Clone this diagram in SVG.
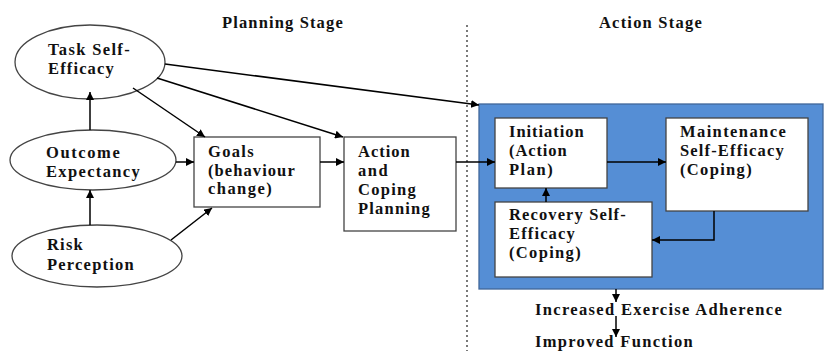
<svg xmlns="http://www.w3.org/2000/svg" width="824" height="351" viewBox="0 0 824 351">
<defs>
<marker id="ah" viewBox="0 0 10 10" refX="10" refY="5" markerWidth="8" markerHeight="8" markerUnits="userSpaceOnUse" orient="auto">
<path d="M0,0 L10,5 L0,10 z" fill="#000"/>
</marker>
</defs>
<style>
text{font-family:"Liberation Serif","Times New Roman",serif;font-weight:bold;font-size:16.5px;fill:#111;letter-spacing:0.3px}
.node{fill:#fff;stroke:#444;stroke-width:1.3}
.c{fill:none;stroke:#000;stroke-width:1.5;marker-end:url(#ah)}
</style>
<rect width="824" height="351" fill="#fff"/>
<text x="222" y="28" textLength="121">Planning Stage</text>
<text x="599" y="28" textLength="103">Action Stage</text>
<line x1="467" y1="25" x2="467" y2="351" stroke="#222" stroke-width="1.2" stroke-dasharray="2,3"/>
<g id="action-stage">
<rect x="479" y="104" width="344" height="185" fill="#558ed5" stroke="#41679a" stroke-width="1.3"/>
</g>
<g id="task-self-efficacy">
<ellipse class="node" cx="90" cy="62" rx="75" ry="37"/>
<text x="48" y="55" textLength="82">Task Self-</text>
<text x="48" y="74" textLength="66">Efficacy</text>
</g>
<g id="outcome-expectancy">
<ellipse class="node" cx="93" cy="160" rx="83" ry="30"/>
<text x="46" y="158" textLength="74">Outcome</text>
<text x="46" y="177" textLength="94">Expectancy</text>
</g>
<g id="risk-perception">
<ellipse class="node" cx="97" cy="256" rx="85" ry="31"/>
<text x="47" y="250" textLength="36">Risk</text>
<text x="47" y="270" textLength="87">Perception</text>
</g>
<g id="goals">
<rect class="node" x="194" y="137" width="126" height="70"/>
<text x="208" y="157" textLength="46">Goals</text>
<text x="208" y="176" textLength="87">(behaviour</text>
<text x="208" y="194" textLength="64">change)</text>
</g>
<g id="action-coping-planning">
<rect class="node" x="344" y="137" width="112" height="94"/>
<text x="358" y="157" textLength="52">Action</text>
<text x="358" y="176" textLength="30">and</text>
<text x="358" y="195" textLength="58">Coping</text>
<text x="358" y="214" textLength="72">Planning</text>
</g>
<g id="initiation">
<rect class="node" x="495" y="118" width="112" height="70"/>
<text x="509" y="137" textLength="75">Initiation</text>
<text x="509" y="156" textLength="58">(Action</text>
<text x="509" y="175" textLength="44">Plan)</text>
</g>
<g id="maintenance">
<rect class="node" x="666" y="118" width="142" height="93"/>
<text x="680" y="137" textLength="106">Maintenance</text>
<text x="680" y="156" textLength="104">Self-Efficacy</text>
<text x="680" y="175" textLength="72">(Coping)</text>
</g>
<g id="recovery">
<rect class="node" x="495" y="202" width="157" height="75"/>
<text x="509" y="220" textLength="117">Recovery Self-</text>
<text x="509" y="239" textLength="66">Efficacy</text>
<text x="509" y="258" textLength="72">(Coping)</text>
</g>
<g id="adherence">
<text x="535" y="315" textLength="247">Increased Exercise Adherence</text>
</g>
<g id="function">
<text x="535" y="347" textLength="158">Improved Function</text>
</g>
<g id="connectors">
<path class="c" d="M90,130 L90,92"/>
<path class="c" d="M90,225 L90,190"/>
<path class="c" d="M176,162 L194,162"/>
<path class="c" d="M171,240 L212,208"/>
<path class="c" d="M133,88 L205,137"/>
<path class="c" d="M157,78 L343,137"/>
<path class="c" d="M165,64 L479,105"/>
<path class="c" d="M320,162 L344,162"/>
<path class="c" d="M456,162 L495,162"/>
<path class="c" d="M607,162 L666,162"/>
<path class="c" d="M714,211 L714,240 L652,240"/>
<path class="c" d="M546,202 L546,188"/>
<path class="c" d="M616,289 L616,302"/>
<path class="c" d="M616,316 L616,337"/>
</g>
</svg>
